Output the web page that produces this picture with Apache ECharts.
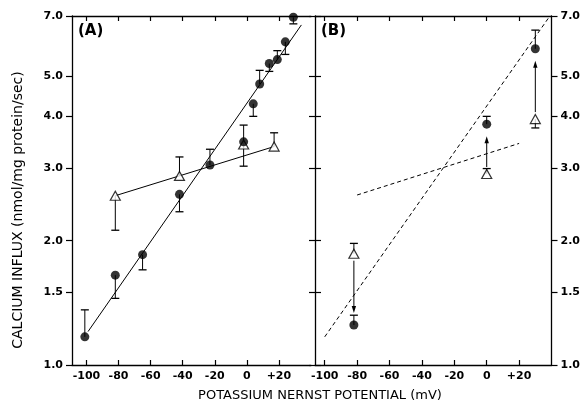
<!DOCTYPE html>
<html><head><meta charset="utf-8">
<script src="https://cdn.jsdelivr.net/npm/echarts@6/dist/echarts.min.js"></script>
<style>html,body{margin:0;padding:0;background:#fff}#c{width:583px;height:411px}</style>
</head><body><div id="c"></div>
<script>
// ---- data ----
const yTicks = [1.0, 1.5, 2.0, 3.0, 4.0, 5.0, 7.0];
const xTicks = [-100, -80, -60, -40, -20, 0, 20];

// Panel A: filled circles (value, error-bar end)
const aCircleX   = [-101, -82, -65, -42, -23, -2, 4, 8, 14, 19, 24, 29];
const aCircleY   = [1.17, 1.65, 1.85, 2.59, 3.05, 3.47, 4.29, 4.79, 5.37, 5.49, 6.06, 6.95];
const aCircleErr = [1.36, 1.45, 1.70, 2.35, 3.33, 3.03, 4.00, 5.17, 5.14, 5.77, 5.65, 6.70];
// Panel A: open triangles
const aTriX   = [-82, -42, -2, 17];
const aTriY   = [2.57, 2.87, 3.42, 3.38];
const aTriErr = [2.12, 3.19, 3.81, 3.65];
// Panel A regression lines
const aFitCircle = [[-99, 1.205], [34, 6.66]];
const aFitTri    = [[-82, 2.57], [17, 3.38]];

// Panel B
const bX         = [-82, 0, 30];
const bTriY      = [1.86, 2.90, 3.94];
const bTriErr    = [1.97, 2.99, 3.75];
const bCircleY   = [1.25, 3.83, 5.83];
const bCircleErr = [1.32, 4.00, 6.47];
const bDashSteep   = [[-100, 1.17], [39, 7.0]];
const bDashShallow = [[-80, 2.58], [20, 3.44]];

// ---- build ----
const L = Math.log10;
const FONT = 'DejaVu Sans';
const tickLabelStyle = {color: '#000', fontFamily: FONT, fontSize: 11, fontWeight: 'bold'};
const yLog = yTicks.map(L);
const yFmt = v => Math.pow(10, v).toFixed(1);
const xFmt = v => (v > 0 ? '+' + v : String(v));

function errSeries(xs, ys, es, xi, yi) {
  return {
    type: 'custom', xAxisIndex: xi, yAxisIndex: yi, z: 2, clip: false,
    data: xs.map((x, i) => [x, L(ys[i]), L(es[i])]),
    renderItem: (p, api) => {
      const a = api.coord([api.value(0), api.value(1)]);
      const b = api.coord([api.value(0), api.value(2)]);
      return {type: 'group', children: [
        {type: 'line', shape: {x1: a[0], y1: a[1], x2: b[0], y2: b[1]}, style: {stroke: '#000', lineWidth: 1}},
        {type: 'line', shape: {x1: b[0] - 4, y1: b[1], x2: b[0] + 4, y2: b[1]}, style: {stroke: '#000', lineWidth: 1.3}}
      ]};
    }
  };
}
function scat(xs, ys, xi, yi, tri) {
  return {
    type: 'scatter', xAxisIndex: xi, yAxisIndex: yi, z: 5, clip: false,
    symbol: tri ? 'triangle' : 'circle', symbolSize: tri ? [10, 9] : 9,
    itemStyle: tri ? {color: '#fff', borderColor: '#000', borderWidth: 1.2} : {color: '#000'},
    data: xs.map((x, i) => [x, L(ys[i])])
  };
}
function lineS(pts, xi, yi, dashed) {
  return {
    type: 'line', xAxisIndex: xi, yAxisIndex: yi, z: 3, symbol: 'none', silent: true,
    lineStyle: {color: '#000', width: 1, type: dashed ? [4, 3] : 'solid'},
    data: pts.map(p => [p[0], L(p[1])])
  };
}
function arrows(xs, from, to, xi, yi) {
  return {
    type: 'custom', xAxisIndex: xi, yAxisIndex: yi, z: 4,
    data: xs.map((x, i) => [x, L(from[i]), L(to[i])]),
    renderItem: (p, api) => {
      const a = api.coord([api.value(0), api.value(1)]);
      const b = api.coord([api.value(0), api.value(2)]);
      const d = b[1] > a[1] ? 1 : -1;
      const y1 = a[1] + d * 7, y2 = b[1] - d * 12;
      const x = a[0];
      return {type: 'group', children: [
        {type: 'line', shape: {x1: x, y1: y1, x2: x, y2: y2 - d * 5}, style: {stroke: '#000', lineWidth: 1}},
        {type: 'polygon', shape: {points: [[x, y2], [x - 2.2, y2 - d * 7], [x + 2.2, y2 - d * 7]]}, style: {fill: '#000'}}
      ]};
    }
  };
}

function xAx(gi, pos, min, max, labels) {
  return {
    type: 'value', gridIndex: gi, position: pos, min: min, max: max,
    axisLine: {show: true, onZero: false, lineStyle: {color: '#000', width: 1.3}},
    axisTick: {show: true, inside: true, length: 5, customValues: xTicks, lineStyle: {color: '#000', width: 1.2}},
    axisLabel: labels ? Object.assign({show: true, margin: 6, customValues: xTicks, formatter: xFmt}, tickLabelStyle) : {show: false},
    splitLine: {show: false}
  };
}
function yAx(gi, pos, opts) {
  return {
    type: 'value', gridIndex: gi, position: pos, min: 0, max: L(7),
    axisLine: {show: opts.line, onZero: false, lineStyle: {color: '#000', width: 1.3}},
    axisTick: {show: true, inside: opts.inside, length: 6, customValues: yLog, lineStyle: {color: '#000', width: 1.2}},
    axisLabel: opts.labels ? Object.assign({show: true, margin: 9, customValues: yLog, formatter: yFmt}, tickLabelStyle) : {show: false},
    splitLine: {show: false}
  };
}

const option = {
  backgroundColor: '#fff',
  animation: false,
  grid: [
    {left: 72, width: 239, top: 16, bottom: 46},
    {left: 315, width: 237, top: 16, bottom: 46}
  ],
  xAxis: [
    xAx(0, 'bottom', -109, 40, true),
    xAx(0, 'top', -109, 40, false),
    xAx(1, 'bottom', -106, 40, true),
    xAx(1, 'top', -106, 40, false)
  ],
  yAxis: [
    yAx(0, 'left', {line: true, inside: false, labels: true}),
    yAx(1, 'left', {line: true, inside: true, labels: false}),
    yAx(1, 'left', {line: false, inside: false, labels: false}),
    yAx(1, 'right', {line: true, inside: false, labels: true})
  ],
  series: [
    lineS(aFitCircle, 0, 0, false),
    lineS(aFitTri, 0, 0, false),
    errSeries(aCircleX, aCircleY, aCircleErr, 0, 0),
    errSeries(aTriX, aTriY, aTriErr, 0, 0),
    scat(aTriX, aTriY, 0, 0, true),
    scat(aCircleX, aCircleY, 0, 0, false),

    lineS(bDashSteep, 2, 1, true),
    lineS(bDashShallow, 2, 1, true),
    errSeries(bX, bTriY, bTriErr, 2, 1),
    errSeries(bX, bCircleY, bCircleErr, 2, 1),
    arrows(bX, bTriY, bCircleY, 2, 1),
    scat(bX, bTriY, 2, 1, true),
    scat(bX, bCircleY, 2, 1, false)
  ],
  graphic: [
    {type: 'text', left: 78, top: 24, style: {text: '(A)', fill: '#000', font: 'bold 15px "' + FONT + '"'}},
    {type: 'text', left: 321, top: 24, style: {text: '(B)', fill: '#000', font: 'bold 15px "' + FONT + '"'}},
    {type: 'text', x: 18, y: 210, rotation: Math.PI / 2,
     style: {text: 'CALCIUM INFLUX (nmol/mg protein/sec)', fill: '#000', font: '14px "' + FONT + '"', align: 'center', verticalAlign: 'middle'}},
    {type: 'text', x: 320, y: 396,
     style: {text: 'POTASSIUM NERNST POTENTIAL (mV)', fill: '#000', font: '13px "' + FONT + '"', align: 'center', verticalAlign: 'middle'}}
  ]
};
const chart = echarts.init(document.getElementById('c'), null, {renderer: 'canvas'});
chart.setOption(option);
</script></body></html>
